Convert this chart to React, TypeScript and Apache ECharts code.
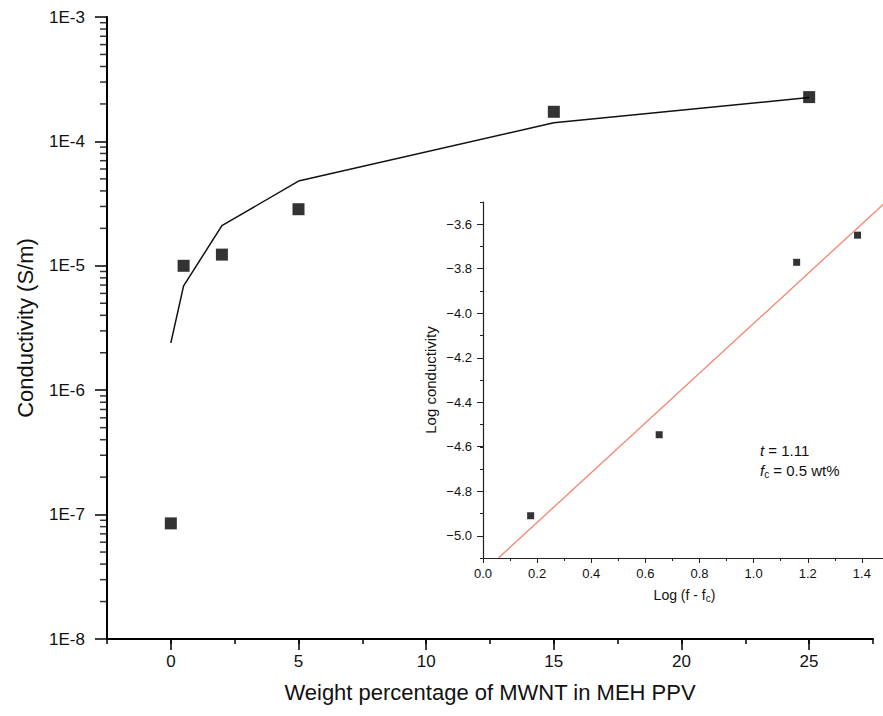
import React, { useEffect, useRef } from "react";
import * as echarts from "echarts";

// Main plot: conductivity vs MWNT weight percentage
const mainX = [0, 0.5, 2, 5, 15, 25];
const mainY = [8.5e-8, 1.0e-5, 1.23e-5, 2.85e-5, 1.73e-4, 2.27e-4];
// Model curve drawn through the main plot
const curveX = [0, 0.5, 2, 5, 15, 25];
const curveY = [2.4e-6, 6.9e-6, 2.1e-5, 4.8e-5, 1.41e-4, 2.25e-4];
// Inset: log conductivity vs log(f - fc)
const insetX = [0.176, 0.651, 1.159, 1.384];
const insetY = [-4.91, -4.546, -3.771, -3.649];
// Inset fitted line end points
const insetFitX = [0.057, 1.5];
const insetFitY = [-5.1, -3.487];
// Log-axis minor tick structure
const decades = [1e-8, 1e-7, 1e-6, 1e-5, 1e-4];
const minorMultipliers = [2, 3, 4, 5, 6, 7, 8, 9];

const FONT = "'Liberation Sans', Arial, Helvetica, sans-serif";

export default function App() {
  const ref = useRef<HTMLDivElement>(null);
  useEffect(() => {
    if (!ref.current) return;
    const chart = echarts.init(ref.current, undefined, { renderer: "svg" });
    const minorTicks: number[][] = [];
    decades.forEach((d) => minorMultipliers.forEach((m) => minorTicks.push([-2.5, m * d])));
    const black = "#000";
    const insetTick = { lineStyle: { color: "#222", width: 1 } };
    const option: any = {
      animation: false,
      backgroundColor: "#fff",
      textStyle: { fontFamily: FONT },
      grid: [
        { left: 107, width: 766, top: 17, height: 622, outerBoundsMode: "none" },
        { left: 171, width: 638, top: 17, height: 622, outerBoundsMode: "none" },
        { left: 483, width: 433, top: 202, height: 356, outerBoundsMode: "none" },
        { left: 483, width: 433, top: 224.25, height: 311.5, outerBoundsMode: "none" },
      ],
      xAxis: [
        {
          gridIndex: 0, type: "value", min: -2.5, max: 27.5, interval: 2.5,
          axisLine: { onZero: false, lineStyle: { color: black, width: 2 } },
          axisTick: { length: 5, lineStyle: { color: black, width: 1.5 } },
          axisLabel: { show: false }, splitLine: { show: false },
        },
        {
          gridIndex: 1, type: "value", min: 0, max: 25, interval: 5,
          axisLine: { show: false, onZero: false },
          axisTick: { length: 11, lineStyle: { color: black, width: 1.5 } },
          axisLabel: { fontSize: 17, margin: 14, color: "#111", fontFamily: FONT },
          splitLine: { show: false },
          name: "Weight percentage of MWNT in MEH PPV",
          nameLocation: "middle", nameGap: 42,
          nameTextStyle: { fontSize: 22, color: "#111", fontFamily: FONT },
        },
        {
          gridIndex: 2, type: "value", min: 0, max: 1.6, interval: 0.2,
          axisLine: { onZero: false, lineStyle: { color: "#222", width: 1.2 } },
          axisTick: { length: 5, ...insetTick },
          minorTick: { show: true, splitNumber: 2, length: 3, ...insetTick },
          axisLabel: {
            fontSize: 13, margin: 9, color: "#111", fontFamily: FONT, showMaxLabel: false,
            formatter: (v: number) => v.toFixed(1),
          },
          splitLine: { show: false },
          name: "Log (f - f{s|c})",
          nameLocation: "middle", nameGap: 28,
          nameTextStyle: {
            fontSize: 14, color: "#111", fontFamily: FONT, padding: [0, 30, 0, 0],
            rich: { s: { fontSize: 10, padding: [7, 0, 0, 0], verticalAlign: "bottom", color: "#111", fontFamily: FONT } },
          },
        },
        { gridIndex: 3, type: "value", min: 0, max: 1.6, show: false },
      ],
      yAxis: [
        {
          gridIndex: 0, type: "log", logBase: 10, min: 1e-8, max: 1e-3,
          axisLine: { show: true, onZero: false, lineStyle: { color: black, width: 2 } },
          axisTick: { show: true, length: 12, lineStyle: { color: black, width: 1.5 } },
          axisLabel: {
            fontSize: 17, margin: 22, color: "#111", fontFamily: FONT,
            formatter: (v: number) => "1E" + Math.round(Math.log10(v)),
          },
          splitLine: { show: false },
          name: "Conductivity (S/m)",
          nameLocation: "middle", nameGap: 71,
          nameTextStyle: { fontSize: 22, color: "#111", fontFamily: FONT },
        },
        { gridIndex: 1, type: "value", show: false },
        {
          gridIndex: 2, type: "value", min: -5.1, max: -3.5, interval: 0.1,
          axisLine: { show: true, onZero: false, lineStyle: { color: "#222", width: 1.2 } },
          axisTick: { show: true, length: 3, ...insetTick },
          axisLabel: { show: false }, splitLine: { show: false },
          name: "Log conductivity",
          nameLocation: "middle", nameGap: 45,
          nameTextStyle: { fontSize: 15, color: "#111", fontFamily: FONT },
        },
        {
          gridIndex: 3, type: "value", min: -5.0, max: -3.6, interval: 0.2,
          axisLine: { show: false, onZero: false },
          axisTick: { show: true, length: 6, ...insetTick },
          axisLabel: {
            fontSize: 13, margin: 11, color: "#111", fontFamily: FONT,
            formatter: (v: number) => v.toFixed(1).replace("-", "\u2212"),
          },
          splitLine: { show: false },
        },
      ],
      series: [
        {
          type: "line", xAxisIndex: 0, yAxisIndex: 0,
          data: curveX.map((x, i) => [x, curveY[i]]),
          symbol: "none", lineStyle: { color: "#111", width: 1.5 }, z: 2,
        },
        {
          type: "scatter", xAxisIndex: 0, yAxisIndex: 0,
          data: mainX.map((x, i) => [x, mainY[i]]),
          symbol: "rect", symbolSize: 12, itemStyle: { color: black }, z: 3,
        },
        {
          type: "scatter", xAxisIndex: 0, yAxisIndex: 0, data: minorTicks,
          symbol: "rect", symbolSize: [7, 1.5], symbolOffset: [-3.5, 0],
          itemStyle: { color: black }, clip: false, silent: true, z: 4,
        },
        {
          type: "line", xAxisIndex: 2, yAxisIndex: 2,
          data: insetFitX.map((x, i) => [x, insetFitY[i]]),
          symbol: "none", lineStyle: { color: "#f4846f", width: 1.3 }, clip: true,
        },
        {
          type: "scatter", xAxisIndex: 2, yAxisIndex: 2,
          data: insetX.map((x, i) => [x, insetY[i]]),
          symbol: "rect", symbolSize: 7, itemStyle: { color: black },
        },
      ],
      graphic: [
        {
          type: "text", left: 760, top: 443,
          style: {
            text: "{i|t} = 1.11", fontSize: 15, fill: "#111", fontFamily: FONT,
            rich: { i: { fontStyle: "italic", fontSize: 15, fontFamily: FONT } },
          },
        },
        {
          type: "text", left: 760, top: 463,
          style: {
            text: "{i|f}{s|c} = 0.5 wt%", fontSize: 15, fill: "#111", fontFamily: FONT,
            rich: {
              i: { fontStyle: "italic", fontSize: 15, fontFamily: FONT },
              s: { fontSize: 10, padding: [8, 0, 0, 0], verticalAlign: "bottom", fontFamily: FONT },
            },
          },
        },
      ],
    };
    chart.setOption(option);
    return () => chart.dispose();
  }, []);
  return (
    <div
      ref={ref}
      style={{ position: "absolute", left: 0, top: 0, width: 883, height: 716, overflow: "hidden", background: "#fff" }}
    />
  );
}
